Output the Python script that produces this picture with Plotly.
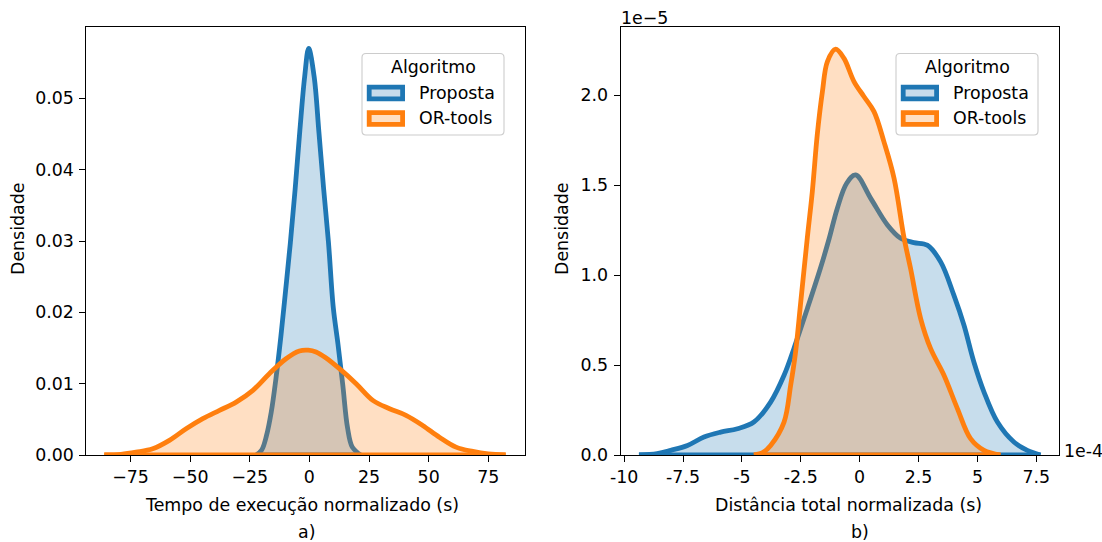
import plotly.graph_objects as go

# ---------------- data ----------------
# Panel a) Tempo de execução normalizado (s)
time_proposta_x = [-22.3, -20, -18, -16, -14, -12, -10, -8, -6, -4, -2, -0.3,
                   2, 4, 6, 8, 10, 12, 14, 16, 18, 21.5]
time_proposta_y = [0, 0.0007, 0.0027, 0.0060, 0.0108, 0.0165, 0.0230, 0.0297, 0.0372,
                   0.0455, 0.0530, 0.0570, 0.0530, 0.0452, 0.0372, 0.0298, 0.0207,
                   0.0155, 0.0098, 0.0038, 0.0011, 0]
time_ortools_x = [-86, -79, -72.7, -65.7, -58.7, -51.7, -44.7, -37.7, -30.7, -23.7,
                  -16.8, -9.8, -4.2, -0.5, 2.8, 7, 12.6, 19.6, 26.6, 33.6, 40.5,
                  47.5, 54.5, 61.5, 68.5, 75, 82.3]
time_ortools_y = [0, 0.0001, 0.0004, 0.00087, 0.00205, 0.00368, 0.0051, 0.00626,
                  0.00742, 0.00907, 0.0114, 0.0135, 0.01459, 0.0147, 0.01445, 0.0136,
                  0.0121, 0.0100, 0.00766, 0.00649, 0.00556, 0.00415, 0.0025, 0.0011,
                  0.0005, 0.00015, 0]

# Panel b) Distância total normalizada (x in 1e-4, y in 1e-5)
dist_proposta_x = [-9.37, -8.6, -8.02, -7.31, -6.61, -5.9, -5.19, -4.49, -3.78, -3.21,
                   -2.79, -2.22, -1.66, -1.3, -0.95, -0.55, -0.17, 0.47, 1.18, 1.74,
                   2.3, 2.87, 3.44, 4.0, 4.43, 4.85, 5.28, 5.85, 6.55, 7.12, 7.68]
dist_proposta_y = [0, 0.008, 0.026, 0.053, 0.1, 0.127, 0.146, 0.183, 0.294, 0.443,
                   0.592, 0.814, 1.04, 1.2, 1.37, 1.51, 1.556, 1.426, 1.278, 1.204,
                   1.18, 1.166, 1.073, 0.888, 0.721, 0.517, 0.35, 0.183, 0.072, 0.026, 0]
dist_ortools_x = [-4.49, -4.1, -3.78, -3.21, -2.93, -2.72, -2.5, -2.22, -2.01, -1.80,
                  -1.58, -1.37, -1.02, -0.67, -0.24, 0.18, 0.61, 1.03, 1.46, 1.88,
                  2.16, 2.59, 3.01, 3.58, 4.15, 4.71, 5.28, 5.98]
dist_ortools_y = [0, 0.015, 0.053, 0.183, 0.387, 0.573, 0.851, 1.21, 1.463, 1.779,
                  2.02, 2.186, 2.255, 2.205, 2.075, 1.992, 1.908, 1.741, 1.538, 1.21,
                  1.037, 0.758, 0.592, 0.443, 0.258, 0.091, 0.026, 0]

time_xticks = [-75, -50, -25, 0, 25, 50, 75]
time_yticks = [0.00, 0.01, 0.02, 0.03, 0.04, 0.05]
dist_xticks = [-10, -7.5, -5, -2.5, 0, 2.5, 5, 7.5]
dist_xticktext = ["-10", "-7.5", "-5", "-2.5", "0", "2.5", "5", "7.5"]
dist_yticks = [0.0, 0.5, 1.0, 1.5, 2.0]

series_names = ["Proposta", "OR-tools"]
# ----------------------------------------------------------------

W, H = 1102, 542
FONT = "DejaVu Sans"
FS = 17.4
BLUE = "#1f77b4"
ORANGE = "#ff7f0e"
BLUE_FILL = "rgba(31,119,180,0.25)"
ORANGE_FILL = "rgba(255,127,14,0.25)"
LW = 4.8


def px(x):
    return x / W


def py(y):
    return 1 - y / H


fig = go.Figure()


def add_kde(x, y, color, fill, xa, ya):
    fig.add_trace(go.Scatter(
        x=x, y=y, mode="lines", fill="tozeroy", fillcolor=fill,
        line=dict(color=color, width=LW, shape="spline", smoothing=1.0),
        xaxis=xa, yaxis=ya, showlegend=False, hoverinfo="skip"))
    fig.add_trace(go.Scatter(
        x=[x[0], x[-1]], y=[y[0], y[-1]], mode="lines",
        line=dict(color=color, width=LW),
        xaxis=xa, yaxis=ya, showlegend=False, hoverinfo="skip"))


add_kde(time_proposta_x, time_proposta_y, BLUE, BLUE_FILL, "x", "y")
add_kde(time_ortools_x, time_ortools_y, ORANGE, ORANGE_FILL, "x", "y")
add_kde(dist_proposta_x, dist_proposta_y, BLUE, BLUE_FILL, "x2", "y2")
add_kde(dist_ortools_x, dist_ortools_y, ORANGE, ORANGE_FILL, "x2", "y2")

ax_common = dict(showline=True, mirror=True, linecolor="black", linewidth=1.1,
                 ticks="outside", ticklen=6, tickwidth=1.1, tickcolor="black",
                 showgrid=False, zeroline=False, automargin=False,
                 tickfont=dict(family=FONT, size=FS, color="black"))

Y0, Y1 = 27, 455
fig.update_layout(
    template="none",
    width=W, height=H, margin=dict(l=0, r=0, t=0, b=0, autoexpand=False),
    paper_bgcolor="white", plot_bgcolor="white",
    xaxis=dict(domain=[px(86.4), px(525)], range=[-93.5, 90.4], anchor="y",
               tickvals=time_xticks, **ax_common),
    yaxis=dict(domain=[py(Y1), py(Y0)], range=[0, 0.0600], anchor="x",
               tickvals=time_yticks, tickformat=".2f", ticklabelstandoff=2, **ax_common),
    xaxis2=dict(domain=[px(620.6), px(1058.9)], range=[-10.15, 8.46], anchor="y2",
                tickvals=dist_xticks, ticktext=dist_xticktext, **ax_common),
    yaxis2=dict(domain=[py(Y1), py(Y0)], range=[0, 2.378], anchor="x2",
                tickvals=dist_yticks, tickformat=".1f", ticklabelstandoff=2, **ax_common),
)

ann = []


def text(x, y, s, xanchor="center", yanchor="middle", angle=0):
    ann.append(dict(x=px(x), y=py(y), xref="paper", yref="paper", text=s,
                    showarrow=False, xanchor=xanchor, yanchor=yanchor, textangle=angle,
                    font=dict(family=FONT, size=FS, color="black")))


text(302, 505, "Tempo de execução normalizado (s)")
text(306, 532, "a)")
text(848, 505, "Distância total normalizada (s)")
text(860, 532, "b)")
text(18, 229, "Densidade", angle=-90)
text(562, 229, "Densidade", angle=-90)
text(619, 18, "1e\u22125", xanchor="left")
text(1062, 451, "1e-4", xanchor="left")

shapes = []


def rounded(x0, y0, x1, y1, r=4):
    X0, X1 = px(x0), px(x1)
    Y0_, Y1_ = py(y0), py(y1)
    rx, ry = r / W, r / H
    return (f"M {X0+rx},{Y0_} L {X1-rx},{Y0_} Q {X1},{Y0_} {X1},{Y0_-ry} "
            f"L {X1},{Y1_+ry} Q {X1},{Y1_} {X1-rx},{Y1_} L {X0+rx},{Y1_} "
            f"Q {X0},{Y1_} {X0},{Y1_+ry} L {X0},{Y0_-ry} Q {X0},{Y0_} {X0+rx},{Y0_} Z")


def legend(x_off):
    shapes.append(dict(type="path", path=rounded(362 + x_off, 53.5, 504 + x_off, 135),
                       xref="paper", yref="paper",
                       fillcolor="rgba(255,255,255,0.8)",
                       line=dict(color="#cccccc", width=1.1), layer="above"))
    text(433 + x_off, 67, "Algoritmo")
    for i, (name, col, fill) in enumerate(zip(series_names, [BLUE, ORANGE],
                                              ["#c7dbeb", "#ffdfc3"])):
        yc = 93 + 25.5 * i
        shapes.append(dict(type="rect", xref="paper", yref="paper",
                           x0=px(369.2 + x_off), x1=px(402.6 + x_off),
                           y0=py(yc - 5.8), y1=py(yc + 5.8),
                           fillcolor=fill, line=dict(color=col, width=LW), layer="above"))
        text(417 + x_off, yc, name, xanchor="left")


legend(0)
legend(534)

fig.update_layout(annotations=ann, shapes=shapes)
fig.write_html("out.html")
